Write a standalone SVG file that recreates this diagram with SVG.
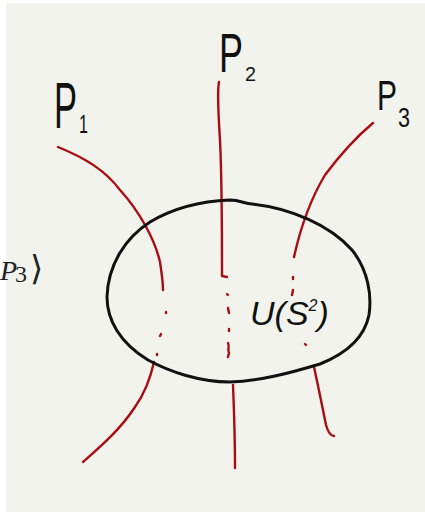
<svg xmlns="http://www.w3.org/2000/svg" width="425" height="515" viewBox="0 0 425 515">
<style>
.red{fill:none;stroke:#a80d12;stroke-width:2.4;stroke-linecap:round;stroke-linejoin:round}
.dot{fill:none;stroke:#a80d12;stroke-width:2.4;stroke-linecap:round}
.hand{font-family:"Liberation Sans","DejaVu Sans",sans-serif;fill:#111}
</style>
<rect x="0" y="0" width="425" height="515" fill="#ffffff"/>
<rect x="6" y="3" width="419" height="509" fill="#f3f3ee"/>
<text x="0" y="280" font-family="'Liberation Serif','DejaVu Serif',serif" font-size="28" fill="#222"><tspan font-style="italic">P</tspan><tspan font-size="24" dy="2" dx="-2">3</tspan><tspan dy="-2" dx="3" font-family="'DejaVu Serif',serif" font-size="34">⟩</tspan></text>
<g id="connectors">
<path class="red" d="M58,147 C85,158 105,170 120,190 C140,212 155,240 160,262 C162,275 163,284 163,290"/>
<path class="dot" d="M166,312 L166,313 M161,334 L160,336 M157,354 L157,355"/>
<path class="red" d="M154,362 C150,380 145,393 135,407 C120,430 100,447 83,462"/>
<path class="red" d="M219,82 C217,92 218,110 220,140 C222,180 222,240 222,276 L227,277"/>
<path class="dot" d="M227,294 L228,295 M228,308 L229,313 M229,329 L229,331 M228,343 C230,347 227,350 229,353 L228,357"/>
<path class="red" d="M233,385 C234,410 235,440 235,468"/>
<path class="red" d="M373,123 C355,138 340,155 325,175 C310,200 300,230 294,257"/>
<path class="dot" d="M293,277 L293,279 M293,290 L292,295 M305,344 L306,345"/>
<path class="red" d="M314,367 C318,385 322,405 326,425 C328,432 330,436 334,436"/>
</g>
<g id="sphere">
<path d="M230,200 C240,200 245,204 252,204 C290,208 330,225 352,250 C368,270 372,295 369,315 C365,335 350,352 320,364 C290,373 260,381 230,382 C200,382 170,372 148,360 C120,343 107,320 107,297 C108,265 125,238 150,222 C175,207 205,201 230,200 Z" fill="none" stroke="#111" stroke-width="3"/>
<text class="hand" x="250" y="325" font-size="34" font-style="italic">U(S<tspan font-size="16" dy="-14">2</tspan><tspan dy="14">)</tspan></text>
</g>
<g id="p1">
<text class="hand" font-size="64" x="54" y="128" textLength="23" lengthAdjust="spacingAndGlyphs">P</text>
<text class="hand" font-size="25" x="79" y="133" textLength="9" lengthAdjust="spacingAndGlyphs">1</text>
</g>
<g id="p2">
<text class="hand" font-size="56" x="219" y="72" textLength="24" lengthAdjust="spacingAndGlyphs">P</text>
<text class="hand" font-size="21" x="245" y="81" textLength="11" lengthAdjust="spacingAndGlyphs">2</text>
</g>
<g id="p3">
<text class="hand" font-size="42" x="377" y="110" textLength="20" lengthAdjust="spacingAndGlyphs">P</text>
<text class="hand" font-size="28" x="398" y="127" textLength="12" lengthAdjust="spacingAndGlyphs">3</text>
</g>
</svg>
